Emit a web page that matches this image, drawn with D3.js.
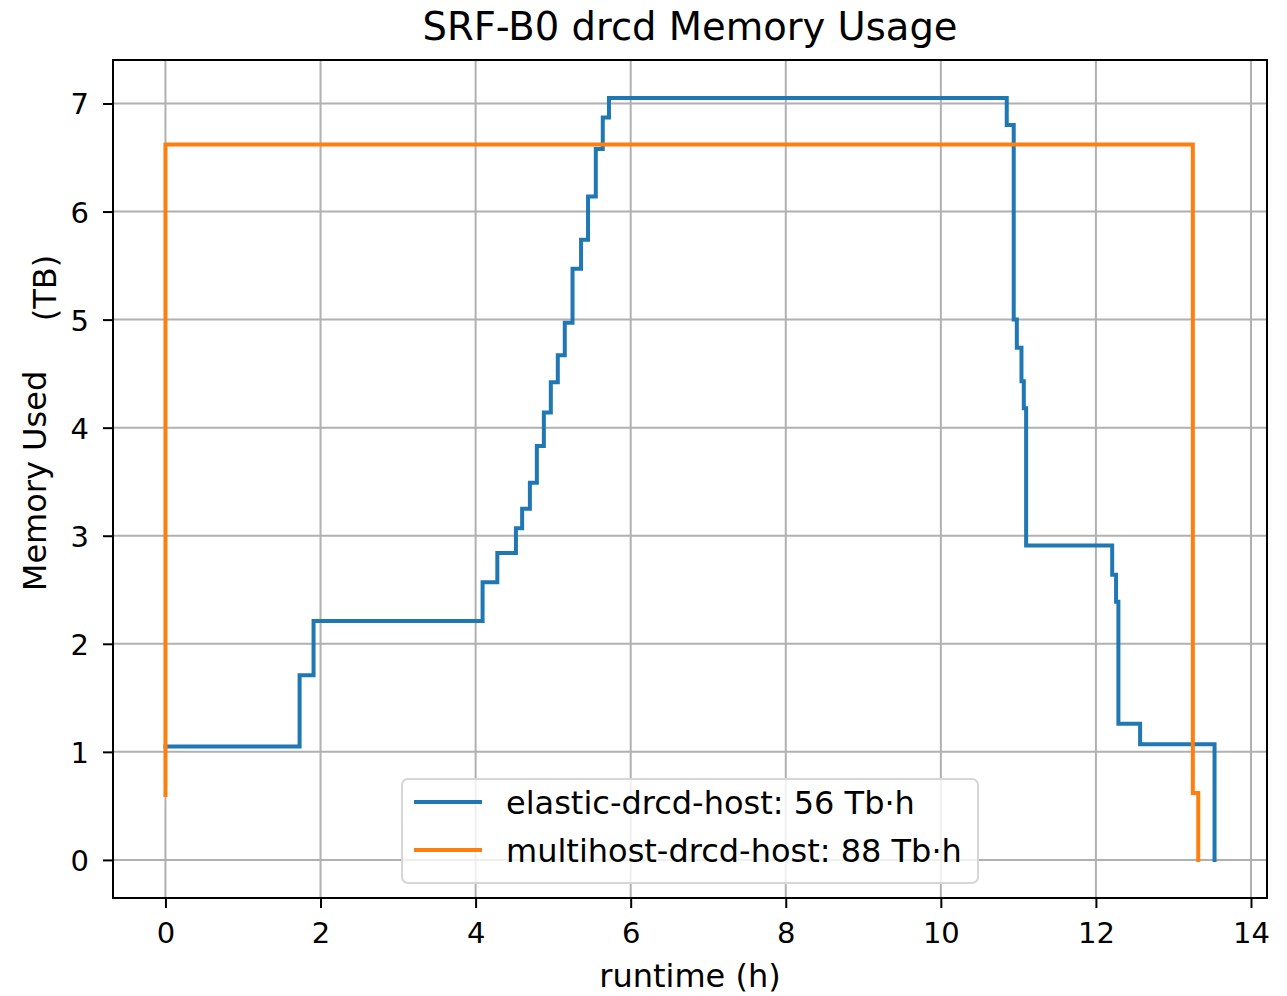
<!DOCTYPE html>
<html>
<head>
<meta charset="utf-8">
<script src="https://cdn.jsdelivr.net/npm/d3@7"></script>
<style>
  body { margin: 0; background: #fff; }
  text { font-family: "DejaVu Sans", sans-serif; fill: #000; }
</style>
</head>
<body>
<svg id="chart" width="1287" height="996"></svg>
<script>
// elastic-drcd-host: step changes (time in h, memory in TB)
const elasticTime = [0, 1.73, 1.91, 4.09, 4.28, 4.52, 4.60, 4.70, 4.79, 4.88, 4.97, 5.06, 5.15, 5.25, 5.36, 5.45, 5.55, 5.64, 5.72,
  10.85, 10.94, 10.98, 11.04, 11.07, 11.10, 12.21, 12.26, 12.29, 12.57, 13.53];
const elasticMem = [1.05, 1.71, 2.21, 2.57, 2.84, 3.07, 3.25, 3.49, 3.83, 4.14, 4.42, 4.67, 4.97, 5.47, 5.74, 6.14, 6.58, 6.87, 7.05,
  6.80, 5.00, 4.74, 4.43, 4.18, 2.91, 2.64, 2.39, 1.26, 1.07, 0];

// multihost-drcd-host
const multiTime = [0, 0, 13.25, 13.32];
const multiMem = [0.6, 6.62, 0.62, 0];

const seriesNames = ["elastic-drcd-host: 56 Tb·h", "multihost-drcd-host: 88 Tb·h"];
const xTicks = [0, 2, 4, 6, 8, 10, 12, 14];
const yTicks = [0, 1, 2, 3, 4, 5, 6, 7];

const svg = d3.select("#chart");
const margin = { left: 113, top: 60, right: 20, bottom: 98 };
const width = 1287 - margin.left - margin.right;
const height = 996 - margin.top - margin.bottom;

const x = d3.scaleLinear().domain([-0.6765, 14.2065]).range([0, width]);
const y = d3.scaleLinear().domain([-0.3525, 7.4025]).range([height, 0]);

const g = svg.append("g").attr("transform", `translate(${margin.left},${margin.top})`);

// grid
g.append("g").selectAll("line").data(xTicks).enter().append("line")
  .attr("x1", d => x(d)).attr("x2", d => x(d))
  .attr("y1", 0).attr("y2", height)
  .attr("stroke", "#b0b0b0").attr("stroke-width", 2);
g.append("g").selectAll("line").data(yTicks).enter().append("line")
  .attr("y1", d => y(d)).attr("y2", d => y(d))
  .attr("x1", 0).attr("x2", width)
  .attr("stroke", "#b0b0b0").attr("stroke-width", 2);

const line = d3.line()
  .x(d => x(d[0]))
  .y(d => y(d[1]))
  .curve(d3.curveStepAfter);

const elastic = elasticTime.map((t, i) => [t, elasticMem[i]]);
const multi = multiTime.map((t, i) => [t, multiMem[i]]);

g.append("path").datum(elastic).attr("d", line)
  .attr("fill", "none").attr("stroke", "#1f77b4").attr("stroke-width", 4)
  .attr("stroke-linejoin", "miter").attr("stroke-linecap", "square");
g.append("path").datum(multi).attr("d", line)
  .attr("fill", "none").attr("stroke", "#ff7f0e").attr("stroke-width", 4)
  .attr("stroke-linejoin", "miter").attr("stroke-linecap", "square");

// axes
const xAxis = g.append("g").attr("transform", `translate(0,${height})`)
  .call(d3.axisBottom(x).tickValues(xTicks).tickSize(10).tickPadding(14));
const yAxis = g.append("g")
  .call(d3.axisLeft(y).tickValues(yTicks).tickSize(10).tickPadding(14));
[xAxis, yAxis].forEach(a => {
  a.select(".domain").remove();
  a.selectAll(".tick line").attr("stroke", "#000").attr("stroke-width", 2);
  a.selectAll(".tick text").style("font-size", "29px").attr("fill", "#000");
});
yAxis.selectAll(".tick text").attr("dy", "0.36em");

// frame
g.append("rect").attr("width", width).attr("height", height)
  .attr("fill", "none").attr("stroke", "#000").attr("stroke-width", 2);

// legend
const legend = g.append("g").attr("transform", `translate(${402 - margin.left},${779 - margin.top})`);
legend.append("rect").attr("width", 576).attr("height", 104).attr("rx", 6)
  .attr("fill", "#fff").attr("fill-opacity", 0.8)
  .attr("stroke", "#d6d6d6").attr("stroke-width", 2);
const colors = ["#1f77b4", "#ff7f0e"];
seriesNames.forEach((name, i) => {
  const yy = 23 + i * 48;
  legend.append("line").attr("x1", 12).attr("x2", 80).attr("y1", yy).attr("y2", yy)
    .attr("stroke", colors[i]).attr("stroke-width", 4);
  legend.append("text").attr("x", 104).attr("y", yy).attr("dy", "0.36em")
    .style("font-size", "32px").text(name);
});

// titles
svg.append("text").attr("x", margin.left + width / 2).attr("y", 40)
  .attr("text-anchor", "middle").style("font-size", "38.5px").text("SRF-B0 drcd Memory Usage");
svg.append("text").attr("x", margin.left + width / 2).attr("y", 987)
  .attr("text-anchor", "middle").style("font-size", "32px").text("runtime (h)");
svg.append("text").attr("transform", "translate(46,481) rotate(-90)")
  .attr("text-anchor", "middle").style("font-size", "32px").text("Memory Used");
svg.append("text").attr("transform", "translate(56,288) rotate(-90)")
  .attr("text-anchor", "middle").style("font-size", "32px").text("(TB)");
</script>
</body>
</html>
